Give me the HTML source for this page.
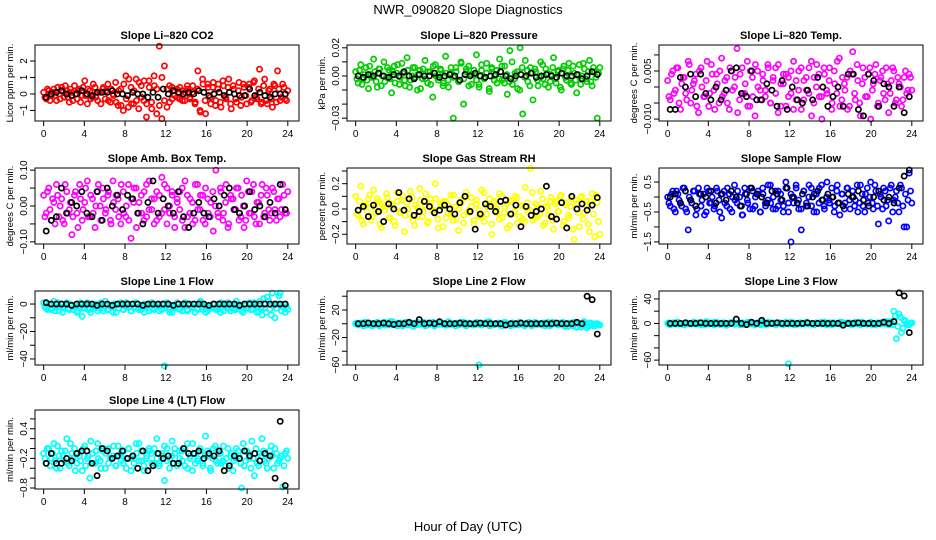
<!DOCTYPE html>
<html><head><meta charset="utf-8">
<style>
html,body{margin:0;padding:0;background:#fff;}
svg{display:block;font-family:"Liberation Sans",Arial,sans-serif;}
</style></head>
<body>
<svg id="chart" width="936" height="540" viewBox="0 0 936 540">
<text x="468" y="14" text-anchor="middle" font-size="13">NWR_090820  Slope Diagnostics</text>
<text x="468" y="531" text-anchor="middle" font-size="13">Hour of Day (UTC)</text>
</svg>
<script>
// Data arrays: two colored samplings across 0-24 h (A on grid, B offset), black series every 0.5 h
const co2Vals=[0.1,-0.3,0.2,-0.1,0.3,-0.4,0.0,0.4,-0.2,0.2,-0.5,0.1,0.5,-0.3,0.3,-0.1,0.8,-0.6,0.2,-0.2,0.4,-0.4,0.1,0.3,-0.3,0.6,-0.5,0.0,0.7,-0.7,0.3,-1.0,1.1,-0.8,0.4,-0.6,0.9,-0.9,0.5,-0.4,-1.4,0.8,-0.5,1.1,-1.2,2.9,-1.5,1.7,-0.8,0.5,-0.3,0.2,-0.2,0.4,-0.4,0.1,0.3,-0.3,0.5,-0.5,1.4,-1.1,0.6,-1.2,0.4,-0.6,0.7,-0.4,0.6,-0.8,0.5,-0.3,0.9,-0.9,0.3,-0.5,0.7,-0.2,0.4,-0.6,0.6,-0.4,0.8,-0.3,1.5,-0.5,0.9,-0.6,0.3,-0.8,0.5,1.4,-0.4,0.6,-0.3,0.2];
const co2ValsB=[-0.2,0.3,-0.4,0.1,-0.1,0.4,-0.3,0.2,0.5,-0.2,0.3,-0.4,0.0,0.2,-0.5,0.4,-0.1,0.3,-0.3,0.6,-0.2,0.1,-0.6,0.4,0.2,-0.4,0.3,-0.1,-0.5,0.2,-0.7,0.6,-0.3,0.9,-0.6,0.2,-0.4,0.7,-0.2,0.8,-0.6,0.4,-0.9,0.5,0.3,-0.7,1.0,-0.4,0.3,-0.5,0.4,-0.1,0.3,-0.3,0.2,-0.4,0.5,-0.2,0.1,-0.6,0.3,-1.0,0.9,-0.4,0.6,-0.2,0.4,-0.7,0.3,-0.5,0.8,-0.2,0.4,-0.6,0.5,-0.3,0.2,-0.7,0.6,-0.1,0.4,-0.5,0.7,-0.2,0.3,-0.6,0.5,-0.4,0.2,-0.3,0.6,-0.5,0.3,-0.2,0.4,-0.4];
const co2Black=[-0.2,0.0,0.1,0.2,0.0,-0.1,0.0,0.2,0.0,-0.1,0.1,0.1,0.1,0.2,0.0,0.0,-0.1,0.1,0.0,0.0,-0.2,0.1,-0.2,0.3,0.0,0.2,0.1,0.0,0.1,0.0,0.2,0.1,-0.1,0.0,0.1,-0.1,0.1,0.0,-0.1,-0.1,0.3,-0.1,0.1,-0.1,-0.2,0.0,0.0,0.0];
// pressure in 1e-3 kPa/min
const presVals=[3,-5,8,-2,6,-9,1,12,-4,5,-7,10,-1,4,-12,7,2,-6,9,-3,13,-8,0,6,-10,4,-2,11,-5,3,-15,8,-1,5,-7,14,-3,2,-30,6,-4,10,-20,3,7,-6,1,15,-8,4,-2,9,-11,5,0,-5,12,-3,7,-13,18,-6,2,-9,20,-27,11,-4,6,-17,3,-7,10,-2,5,-8,1,13,-5,4,-10,7,-3,9,-6,2,-12,8,0,5,-4,11,-7,3,-30,6];
const presValsB=[-2,4,-6,1,-3,7,-1,3,-8,5,0,-4,6,-2,3,-5,8,-1,2,-7,4,-3,6,-1,1,-9,5,-2,3,-6,7,0,-3,4,-5,2,-8,6,-1,3,-4,9,-2,5,-7,1,4,-3,-6,8,-1,2,-9,6,-3,4,-2,7,-5,1,-4,10,-2,3,-10,6,-1,4,-7,2,5,-3,-1,8,-6,2,-4,6,-2,3,-8,5,-1,4,-5,7,-3,1,-6,9,-2,3,-4,6,-1,2];
const presBlack=[0,-1,1,0,2,0,-1,1,0,3,0,-2,1,0,0,2,-1,0,1,0,-3,1,0,2,0,-1,0,1,3,0,-2,0,1,0,2,-1,0,1,0,-1,2,0,0,1,-2,0,3,1];
// Li-820 temp in 1e-3 C/min
const tempVals=[2,-4,5,-1,6,-7,3,-2,8,-5,1,4,-8,6,-3,2,-6,7,-1,4,-5,9,-2,3,-7,5,0,12,-4,6,-2,8,-6,3,-9,5,-1,4,-3,7,-5,2,6,-8,1,4,-6,3,-2,8,-4,5,-7,2,-1,6,-9,3,7,-3,-10,4,-2,6,-5,1,8,-6,3,-1,-7,5,11,-4,2,-9,6,-3,4,-10,1,7,-5,3,-2,6,-8,2,5,-4,1,-6,3,-2,4,-1];
const tempValsB=[-3,4,-2,6,-5,1,3,-4,7,-1,2,-6,5,0,-3,8,-2,4,-7,1,5,-3,2,-5,6,-1,3,-8,4,-2,1,-6,5,-3,7,0,-4,2,-1,6,-5,3,-2,7,-6,1,4,-3,5,-7,2,-1,6,-4,3,-2,8,-5,0,4,-3,6,-1,2,-7,5,-2,9,-4,1,3,-6,4,-2,7,-5,1,3,-3,6,-1,4,-6,2,5,-4,1,-2,6,-5,3,0,-4,5,-1,3];
const tempBlack=[-7,-7,3,0,4,-3,4,-2,-4,0,-4,-1,5,6,-2,-3,5,-4,-4,1,-1,-6,2,-7,0,-4,-5,-1,-4,3,0,-6,-3,0,-6,4,4,-7,-9,4,2,-6,1,0,-6,0,-8,-3];
// amb box temp in 1e-3 C/min
const ambVals=[30,-20,50,-40,10,60,-30,20,-50,40,-10,-80,30,-20,60,-40,10,70,-30,20,-60,40,0,50,-20,30,-40,70,-10,20,-50,40,-30,60,-90,10,50,-20,30,-40,60,-10,20,-50,40,-30,80,-10,50,-20,30,-60,10,40,-40,70,-30,20,-50,60,-10,30,-40,50,-20,10,-70,100,-30,40,-20,60,-50,20,-10,50,-40,30,-60,70,-20,40,-30,10,-50,60,-20,30,-40,50,-10,20,-30,60,-20,40];
const ambValsB=[-30,40,-10,20,-50,30,0,-40,60,-20,10,-30,40,-60,20,-10,50,-30,30,-20,0,60,-40,20,-10,40,-50,10,30,-30,60,-20,0,-40,20,50,-60,10,-20,40,-30,70,-10,20,-40,30,-20,60,-50,0,40,-30,20,-10,50,-60,30,-20,10,-40,60,-10,30,-50,20,-30,40,0,-20,50,-40,10,-60,30,20,-10,50,-30,0,-40,40,-20,60,-50,10,30,-30,50,-10,-20,40,-40,20,-10,30,-20];
const ambBlack=[-70,-40,-30,50,-20,10,0,40,-20,-30,40,-40,50,0,30,-10,30,20,-20,-50,10,70,-20,20,0,-20,40,-30,-60,-20,10,-20,-30,20,0,30,50,-10,-20,0,40,-10,0,-30,10,-20,60,-10];
// RH in 1e-3 percent/min
const rhVals=[100,-50,180,-120,30,80,-90,150,-30,60,-150,20,120,-70,40,-100,130,-20,70,-180,50,-40,90,-130,10,160,-60,30,-110,80,-20,200,-80,40,-140,60,-30,110,-90,20,-170,70,-50,130,-10,90,-120,40,-60,150,-100,20,80,-200,50,-30,120,-70,10,-150,60,-40,100,-110,30,-80,170,-20,320,-90,40,-60,140,-130,20,-50,90,-160,60,-20,110,-100,30,-70,80,-240,40,-140,100,-30,60,-180,120,-220,50,-200];
const rhValsB=[-40,60,-90,30,-20,110,-60,10,80,-120,40,-10,90,-70,20,-130,60,-30,100,-50,0,140,-90,30,-60,70,-20,120,-100,40,-10,80,-150,20,60,-70,30,-40,110,-80,0,50,-110,90,-30,20,-90,70,-10,-60,130,-40,30,-120,60,0,-80,100,-30,40,-130,70,-20,90,-60,20,-100,50,-10,130,-70,30,-40,80,-110,10,60,-90,40,-20,100,-130,50,-50,20,-160,70,-30,90,-80,30,-120,60,-40,110,-100];
const rhBlack=[-10,20,-60,30,-20,-100,40,0,130,-10,80,-50,-20,60,20,-30,-10,30,0,-40,50,100,-20,-160,-40,40,20,-20,60,70,-40,30,-140,20,-50,-20,0,180,-60,-80,50,-150,100,0,40,-10,30,90];
// sample flow in 1e-2 ml/min per min
const sfVals=[0,-30,20,-50,10,-20,30,-40,-110,-10,20,-60,30,-30,10,-50,20,-20,-40,30,-10,-70,20,-30,10,-50,40,-20,0,-60,30,-10,-40,20,-30,10,-50,30,-20,-10,40,-40,20,-30,10,-50,50,-20,-150,0,30,-40,-110,20,-20,40,-30,10,-50,30,-10,-40,50,-20,0,-30,40,-60,10,-20,30,-40,20,-10,-50,40,-30,10,-20,50,-40,20,-90,0,30,-30,-80,40,-10,20,-50,30,-100,-100,80,-20];
const sfValsB=[-20,10,-40,20,-10,-30,30,-50,0,-20,20,-40,10,-10,-60,30,-20,0,-30,20,-50,10,-20,30,-40,0,-10,20,-30,-60,10,-20,30,-40,0,20,-50,10,-30,40,-20,0,-40,20,-10,-30,30,-50,10,-20,40,-10,-40,20,-30,0,30,-50,10,-20,40,-30,0,-10,30,-50,20,-20,10,-40,30,-10,0,-30,40,-20,10,-50,30,0,-20,40,-30,10,-40,20,-10,30,-50,0,-20,40,-30,10,-10,20];
const sfBlack=[0,10,-20,20,-10,-30,10,0,20,-20,10,-10,20,0,-30,10,30,10,0,-20,20,10,-10,30,0,-20,10,-30,0,20,-10,10,0,-20,-30,10,0,20,-10,-30,0,20,-10,0,-20,30,70,90];
const l1Vals=[1,-3,0,-4,2,-2,-5,0,-3,1,-4,-1,-2,-6,0,-9,-3,1,-4,-2,0,-5,-1,-3,2,-4,-1,-6,0,-3,1,-4,-2,0,-5,-2,1,-3,-4,0,-2,-5,-1,-3,-2,0,-4,-45,1,-6,-1,-3,0,-4,-2,1,-5,-1,-3,0,-4,2,-2,-6,-1,-3,0,-4,-2,1,-5,0,-3,-1,-4,2,-2,-5,0,-3,1,-4,-1,-6,2,-8,-3,5,-4,8,-10,0,8,-2,-6,-4];
const l1ValsB=[-2,-4,0,-3,-5,1,-2,-6,-1,-3,0,-4,-2,-5,1,-3,-1,-4,-6,0,-2,-3,1,-5,-1,-4,-2,0,-6,-3,-1,-4,1,-2,-5,-3,0,-4,-2,-6,-1,-3,1,-4,-2,-5,0,-3,-1,-4,-6,-2,1,-3,-5,-1,-4,0,-2,-6,-3,1,-4,-1,-5,-2,0,-3,-4,-6,-1,-2,1,-5,-3,-4,0,-2,-6,-1,-3,-4,1,-2,-5,-3,4,-6,2,-8,-1,-3,6,-5,0,-2];
const l1Black=[1,0,0,0,0,-1,0,0,0,0,-1,0,0,-1,0,0,0,0,0,-1,0,0,0,0,0,-1,0,0,0,0,0,0,-1,0,0,0,0,0,-1,0,0,0,0,0,0,0,0,0];
const l2Vals=[0,-2,1,-3,2,-1,0,-2,1,-3,0,2,-1,-2,3,0,-3,1,-1,2,-2,0,-4,1,-1,0,2,-2,-1,1,-3,0,2,-1,0,-2,1,-1,-3,0,2,-1,-2,1,0,-2,1,-60,-1,0,2,-3,0,-1,1,-2,0,2,-1,-3,1,0,-2,1,-1,0,2,-3,-1,1,0,-2,1,-1,-3,2,0,-1,1,-2,0,-4,1,2,-5,0,-2,3,-6,1,-1,-3,0,-2];
const l2ValsB=[1,-1,0,2,-2,1,-3,0,2,-1,1,-2,0,3,-1,-2,1,0,-3,2,-1,0,1,-2,2,-1,0,-3,1,0,2,-2,-1,1,0,-2,3,-1,0,1,-2,0,2,-3,1,-1,0,2,-1,-2,1,0,3,-2,-1,0,1,-3,2,0,-1,1,-2,0,2,-1,-3,1,0,-2,2,-1,0,1,-3,2,-1,0,1,-2,0,2,-4,1,-1,-3,2,0,-5,1,-2,-4,1,-3,0,-1];
const l2Black=[0,0,1,0,0,1,0,-1,0,0,2,0,6,0,1,0,3,0,0,0,1,0,0,0,1,0,0,0,0,-2,0,0,1,0,0,0,0,0,0,1,0,0,0,2,0,40,35,-15];
const l3Vals=[0,-2,1,-1,2,0,-2,1,-1,0,2,-1,1,-2,0,3,-1,1,-2,2,0,-1,1,-3,0,2,-1,0,1,-2,0,-1,2,0,-2,1,-1,0,-2,2,0,1,-1,0,1,-2,0,-66,2,-2,0,1,-1,0,2,-1,0,-2,1,0,-1,2,-2,0,1,-1,0,2,-2,0,1,-1,0,2,-1,-2,1,0,-1,2,0,-2,1,-1,0,3,-2,1,20,-25,15,-15,5,0,-2,1];
const l3ValsB=[1,-1,0,2,-1,0,-2,1,0,-1,2,0,-1,1,-2,0,1,-1,2,0,-2,1,0,-1,1,2,-1,0,-2,1,0,2,-1,-1,0,1,-2,2,0,-1,1,0,-2,1,-1,0,2,-1,0,1,-2,0,1,-1,2,0,-1,-2,1,0,2,-1,0,1,-2,1,0,-1,2,-1,0,1,-2,0,1,-1,2,0,-1,1,-2,0,1,-1,2,0,-1,3,-2,12,-5,10,-8,4,-2,0];
const l3Black=[0,0,0,1,0,0,1,0,0,0,0,0,0,7,0,-2,2,0,5,0,0,1,0,0,0,0,0,1,0,0,0,0,0,0,-3,0,0,1,0,0,0,0,2,0,3,50,45,-15];
// line 4 in 1e-2 ml/min per min
const l4Vals=[-10,-30,0,-20,10,-40,-15,-5,-25,20,-35,-10,0,-30,-15,-45,5,-20,-60,-10,-30,10,-25,-5,-40,0,-20,-15,-35,5,-10,-30,-20,0,-45,-15,10,-25,-5,-35,-20,0,-10,-30,20,-30,-15,-65,0,-20,15,-10,-35,-5,-25,0,-40,-15,10,-30,-20,-5,-35,25,-15,-45,0,-25,-10,-30,5,-20,-40,-10,-25,0,-15,-80,-35,-5,-20,15,-55,-30,-10,20,-25,-40,-5,-15,0,-30,-20,-78,-10,-20];
const l4ValsB=[-20,0,-35,-10,-25,5,-40,-15,-5,-30,10,-20,-45,-10,-25,0,-35,-15,15,-30,-5,-20,-40,0,-10,-30,-20,5,-35,-15,-25,-5,-40,0,-20,-30,-10,10,-25,-45,-15,-5,-30,0,-20,-35,-10,5,-25,-40,-15,0,-30,-20,-5,-35,10,-20,-45,-10,-25,0,-30,-15,-5,-40,-20,5,-30,-10,-25,-35,0,-15,-45,-20,-5,-30,10,-25,-10,-40,-20,0,-35,-15,-5,-30,-20,5,-40,-10,-25,-15,-35,-5];
const l4Black=[-30,-10,-30,-30,-20,-25,-10,-5,-5,-30,-55,0,-5,-20,-15,-5,-20,-15,-40,-5,-45,-35,-10,-20,-15,-30,-30,0,-10,-10,-5,-20,-10,-15,-5,-45,-35,-15,-20,-5,-15,-10,-25,-10,-15,-60,55,-75];
// tick positions/labels (in each panel's data units)
const xTicks=[0,4,8,12,16,20,24];
const co2Ticks=[-1,0,1,2], co2Labels=["\u22121","0","1","2"];
const presTicks=[-30,-20,-10,0,10,20], presLabels=["\u22120.03","","","0.00","","0.02"];
const tempTicks=[-10,-5,0,5,10], tempLabels=["\u22120.010","","","0.005",""];
const ambTicks=[-100,-50,0,50,100], ambLabels=["\u22120.10","","0.00","","0.10"];
const rhTicks=[-200,-100,0,100,200,300], rhLabels=["\u22120.2","","0.0","","0.2",""];
const sfTicks=[-150,-100,-50,0,50], sfLabels=["\u22121.5","","\u22120.5","","0.5"];
const l1Ticks=[-40,-30,-20,-10,0], l1Labels=["\u221240","","\u221220","","0"];
const l2Ticks=[-60,-40,-20,0,20,40], l2Labels=["\u221260","","\u221220","","20",""];
const l3Ticks=[-60,-40,-20,0,20,40], l3Labels=["\u221260","","","0","","40"];
const l4Ticks=[-80,-60,-40,-20,0,20,40,60], l4Labels=["\u22120.8","","","\u22120.2","","","0.4",""];

const NS="http://www.w3.org/2000/svg";
const svg=document.getElementById('chart');
function mk(tag,attrs,parent){const e=document.createElementNS(NS,tag);for(const k in attrs)e.setAttribute(k,attrs[k]);(parent||svg).appendChild(e);return e;}

const colL=[35,347,659], W=264;
const rowT=[45,168,291,410], H=[76,76,74,79];

function panel(c,r,title,ylab,ymin,ymax,ticks,labels,color,vals,valsB,blk,slug){
  const x0=colL[c], y0=rowT[r], h=H[r];
  const g=mk('g',{});
  
  
  const xs=v=>x0+(v+0.85)/(25.95)*W;
  const ys=v=>y0+h-(v-ymin)/(ymax-ymin)*h;
  const t=mk('text',{x:x0+W/2,y:y0-6,'text-anchor':'middle','font-size':11,'font-weight':'bold'},g);
  t.textContent=title;
  
  
  const pg=mk('g',{fill:'none','stroke-width':1.7},g);
  
  
  vals.forEach((v,i)=>{
    const hr=i*24/(vals.length-1);
    const p=mk('circle',{cx:xs(hr),cy:ys(v),r:2.6,stroke:color},pg);
    
    
  });
  valsB.forEach((v,i)=>{
    const hr=(i+0.5)*24/valsB.length;
    const p=mk('circle',{cx:xs(hr),cy:ys(v),r:2.6,stroke:color},pg);
    
    
  });
  blk.forEach((v,i)=>{
    const hr=i*0.5+0.25;
    const p=mk('circle',{cx:xs(hr),cy:ys(v),r:2.6,stroke:'#000'},pg);
    
    
  });
  const box=mk('rect',{x:x0,y:y0,width:W,height:h,fill:'none',stroke:'#000','stroke-width':1},g);
  
  
  const xa=mk('g',{},g);
  
  
  xTicks.forEach(tv=>{
    const X=xs(tv);
    mk('line',{x1:X,x2:X,y1:y0+h,y2:y0+h+5,stroke:'#000'},xa);
    const tl=mk('text',{x:X,y:y0+h+16,'text-anchor':'middle','font-size':10},xa);
    tl.textContent=tv;
    
    
  });
  const ya=mk('g',{},g);
  
  
  ticks.forEach((tv,i)=>{
    const Y=ys(tv);
    mk('line',{x1:x0-5,x2:x0,y1:Y,y2:Y,stroke:'#000'},ya);
    if(labels[i]){
      const tl=mk('text',{x:x0-8,y:Y,'text-anchor':'middle','font-size':10,transform:`rotate(-90 ${x0-8} ${Y})`},ya);
      tl.textContent=labels[i];
      
      
    }
  });
  const yl=mk('text',{x:x0-22,y:y0+h/2,'text-anchor':'middle','font-size':9.5,transform:`rotate(-90 ${x0-22} ${y0+h/2})`},g);
  yl.textContent=ylab;
  
  
}

panel(0,0,'Slope Li\u2013820 CO2','Licor ppm per min.',-1.64,2.97,co2Ticks,co2Labels,'#ff0000',co2Vals,co2ValsB,co2Black,'co2');
panel(1,0,'Slope Li\u2013820 Pressure','kPa per min.',-32,22,presTicks,presLabels,'#00cd00',presVals,presValsB,presBlack,'pressure');
panel(2,0,'Slope Li\u2013820 Temp.','degrees C per min.',-10.6,13.1,tempTicks,tempLabels,'#ff00ff',tempVals,tempValsB,tempBlack,'li820-temp');
panel(0,1,'Slope Amb. Box Temp.','degrees C per min.',-106,106,ambTicks,ambLabels,'#ff00ff',ambVals,ambValsB,ambBlack,'amb-box-temp');
panel(1,1,'Slope Gas Stream RH','percent per min.',-277,324,rhTicks,rhLabels,'#ffff00',rhVals,rhValsB,rhBlack,'gas-stream-rh');
panel(2,1,'Slope Sample Flow','ml/min per min.',-157,97,sfTicks,sfLabels,'#0000ff',sfVals,sfValsB,sfBlack,'sample-flow');
panel(0,2,'Slope Line 1 Flow','ml/min per min.',-44.4,9.5,l1Ticks,l1Labels,'#00ffff',l1Vals,l1ValsB,l1Black,'line1-flow');
panel(1,2,'Slope Line 2 Flow','ml/min per min.',-60,47.6,l2Ticks,l2Labels,'#00ffff',l2Vals,l2ValsB,l2Black,'line2-flow');
panel(2,2,'Slope Line 3 Flow','ml/min per min.',-68,53,l3Ticks,l3Labels,'#00ffff',l3Vals,l3ValsB,l3Black,'line3-flow');
panel(0,3,'Slope Line 4 (LT) Flow','ml/min per min.',-82,78,l4Ticks,l4Labels,'#00ffff',l4Vals,l4ValsB,l4Black,'line4-flow');
</script>
</body></html>
